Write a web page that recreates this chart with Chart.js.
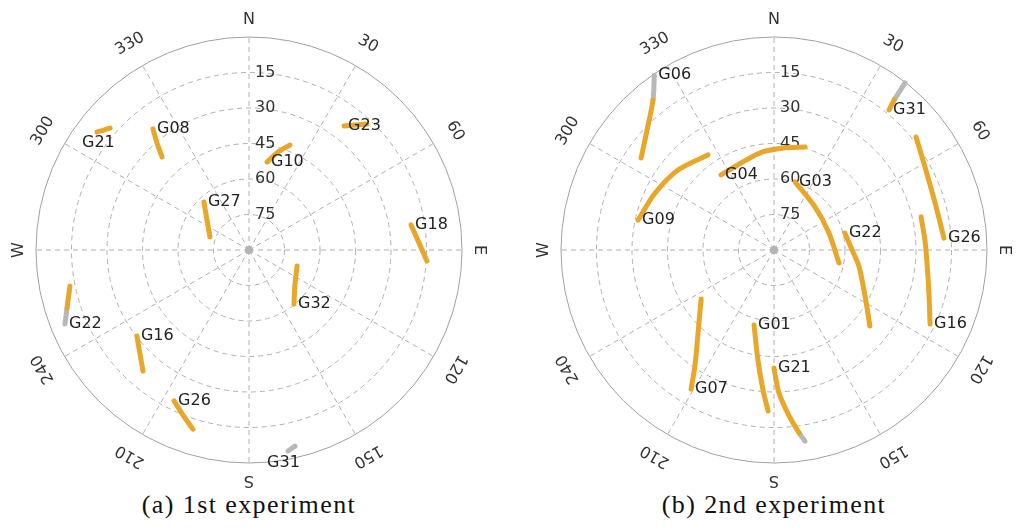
<!DOCTYPE html>
<html>
<head>
<meta charset="utf-8">
<script src="https://cdn.jsdelivr.net/npm/chart.js@4"></script>
<style>
    body { margin: 0; background: #fff; width: 1016px; height: 532px; position: relative; overflow: hidden; }
    .plot { position: absolute; top: 0; width: 508px; height: 490px; }
    .cap { position: absolute; top: 490px; width: 498px; text-align: center;
           font-family: 'Liberation Serif', serif; font-size: 26px; line-height: 30px;
           letter-spacing: 1.4px; color: #111; }
</style>
</head>
<body>
<div class="plot" style="left:0"><canvas id="sky1" width="508" height="490"></canvas></div>
<div class="plot" style="left:508px"><canvas id="sky2" width="508" height="490"></canvas></div>
<div class="cap" style="left:0">(a) 1st experiment</div>
<div class="cap" style="left:525px">(b) 2nd experiment</div>

<script>
// Ejes del skyplot
const azLabels = ['N', '30', '60', 'E', '120', '150', 'S', '210', '240', 'W', '300', '330'];
const azTicks = [0, 30, 60, 90, 120, 150, 180, 210, 240, 270, 300, 330];
const elTicks = [15, 30, 45, 60, 75];

// 1st experiment
const sats1 = ['G21', 'G08', 'G27', 'G10', 'G23', 'G18', 'G32', 'G31', 'G22', 'G16', 'G26'];
const az1 = [
    [307.8, 309.6, 311.3],
    [321.6, 319.3, 316.9],
    [316.8, 305.5, 288.4],
    [11.6, 16.5, 21.3],
    [37.5, 43.1],
    [81.2, 87.6, 93.5],
    [108.4, 127.3, 140.2],
    [166.8, 169.0],
    [248.1, 252.3, 258.6],
    [232.5, 226.3, 221.2],
    [206.4, 201.8, 197.4]
];
const el1 = [
    [8.7, 10.5, 11.9],
    [24.7, 30.4, 36.2],
    [62.2, 68.2, 72.6],
    [52.1, 46.8, 42.4],
    [24.0, 17.1],
    [20.7, 18.1, 14.7],
    [68.6, 65.6, 60.3],
    [4.9, 3.5],
    [6.2, 9.3, 12.8],
    [30.3, 26.3, 22.0],
    [18.8, 14.9, 10.7]
];
const gray1 = [0, 0, 0, 0, 0, 0, 0, 1, 1, 0, 0]; // segmentos grises al inicio
const lblAz1 = [302.0, 321.6, 316.8, 11.6, 37.5, 81.2, 140.2, 176.2, 248.1, 232.5, 206.4];
const lblEl1 = [4.8, 24.7, 62.2, 52.1, 24.0, 20.7, 60.3, 0.0, 6.2, 30.3, 18.8];

// 2nd experiment
const sats2 = ['G06', 'G09', 'G04', 'G03', 'G22', 'G26', 'G16', 'G31', 'G07', 'G01', 'G21'];
const az2 = [
    [325.6, 321.1, 313.4, 304.7],
    [282.4, 295.6, 309.8, 325.2],
    [324.8, 339.2, 353.0, 6.2, 16.8],
    [17.2, 43.6, 72.8, 101.3],
    [76.5, 90.0, 100.7, 116.8, 128.4],
    [51.5, 61.2, 73.7, 86.0],
    [77.3, 86.2, 94.9, 106.2, 115.4],
    [38.1, 38.7, 39.4],
    [236.1, 222.5, 214.3, 210.8],
    [194.9, 188.3, 184.5, 182.1],
    [170.8, 172.2, 174.8, 178.0, 180.0]
];
const el2 = [
    [0.5, 8.6, 16.2, 21.7],
    [31.2, 34.3, 37.2, 41.1],
    [51.2, 50.7, 48.3, 46.6, 44.5],
    [59.9, 64.9, 65.7, 62.0],
    [59.2, 57.0, 53.5, 46.9, 38.3],
    [13.3, 17.2, 19.1, 18.0],
    [26.3, 26.1, 25.1, 21.8, 17.0],
    [0.3, 8.8, 13.4],
    [52.9, 42.5, 30.7, 21.6],
    [57.2, 43.0, 30.7, 21.9],
    [8.2, 12.0, 19.6, 29.5, 40.1]
];
const gray2 = [1, 0, 0, 0, 0, 0, 0, 1, 0, 0, 1];
const lblAz2 = [325.6, 282.4, 324.8, 17.2, 76.5, 86.0, 115.4, 39.4, 210.8, 194.9, 180.0];
const lblEl2 = [0.5, 31.2, 51.2, 59.9, 59.2, 18.0, 17.0, 13.4, 21.6, 57.2, 40.1];

const ORANGE = '#e8a62a';
const GRAY = '#b8b8b8';
const GRID = '#b0b0b0';
const FONT = '16px "DejaVu Sans", sans-serif';

// az/el -> x/y (distancia cenital)
function toXY(az, el) {
    const z = 90 - el;
    const a = az * Math.PI / 180;
    return { x: z * Math.sin(a), y: z * Math.cos(a) };
}

function buildDatasets(names, az, el, gray) {
    return names.map((name, i) => ({
        label: name,
        data: az[i].map((a, j) => toXY(a, el[i][j])),
        showLine: true,
        pointRadius: 0,
        borderWidth: 5,
        borderCapStyle: 'round',
        borderJoinStyle: 'round',
        tension: 0.3,
        borderColor: ORANGE,
        segment: {
            borderColor: c => c.p0DataIndex < gray[i] ? GRAY : ORANGE
        }
    }));
}

// Grilla polar: circulos, radios y etiquetas
const skyGrid = {
    id: 'skyGrid',
    beforeDatasetsDraw(chart) {
        const ctx = chart.ctx;
        const xs = chart.scales.x, ys = chart.scales.y;
        const cx = xs.getPixelForValue(0), cy = ys.getPixelForValue(0);
        const rad = el => xs.getPixelForValue(90 - el) - cx;
        const R = rad(0);
        ctx.save();
        ctx.strokeStyle = GRID;
        ctx.lineWidth = 1;
        ctx.setLineDash([5, 4]);
        elTicks.forEach(e => {
            ctx.beginPath();
            ctx.arc(cx, cy, rad(e), 0, Math.PI * 2);
            ctx.stroke();
        });
        azTicks.forEach(a => {
            const t = a * Math.PI / 180;
            ctx.beginPath();
            ctx.moveTo(cx, cy);
            ctx.lineTo(cx + R * Math.sin(t), cy - R * Math.cos(t));
            ctx.stroke();
        });
        ctx.setLineDash([]);
        ctx.strokeStyle = '#a0a0a0';
        ctx.beginPath();
        ctx.arc(cx, cy, R, 0, Math.PI * 2);
        ctx.stroke();
        ctx.fillStyle = '#b4b4b4';
        ctx.beginPath();
        ctx.arc(cx, cy, 4, 0, Math.PI * 2);
        ctx.fill();

        // elevaciones sobre el eje N
        ctx.font = FONT;
        ctx.fillStyle = '#333';
        ctx.textAlign = 'left';
        ctx.textBaseline = 'middle';
        elTicks.forEach(e => ctx.fillText(String(e), cx + 6, cy - rad(e)));

        // azimut, rotado
        ctx.textAlign = 'center';
        azLabels.forEach((lab, i) => {
            const t = azTicks[i] * Math.PI / 180;
            const r = isNaN(Number(lab)) ? R + 17 : R + 25;
            ctx.save();
            ctx.translate(cx + r * Math.sin(t), cy - r * Math.cos(t));
            ctx.rotate(t);
            ctx.fillText(lab, 0, 0);
            ctx.restore();
        });
        ctx.restore();
    },
    afterDatasetsDraw(chart, args, opts) {
        const ctx = chart.ctx;
        const xs = chart.scales.x, ys = chart.scales.y;
        ctx.save();
        ctx.font = FONT;
        ctx.fillStyle = '#222';
        ctx.textAlign = 'left';
        ctx.textBaseline = 'middle';
        opts.names.forEach((n, i) => {
            const p = toXY(opts.lblAz[i], opts.lblEl[i]);
            ctx.fillText(n, xs.getPixelForValue(p.x) + 4, ys.getPixelForValue(p.y));
        });
        ctx.restore();
    }
};

function renderSky(id, names, az, el, gray, lblAz, lblEl, padLeft) {
    const ctx = document.getElementById(id).getContext('2d');
    new Chart(ctx, {
        type: 'scatter',
        data: { datasets: buildDatasets(names, az, el, gray) },
        options: {
            responsive: false,
            animation: false,
            layout: { padding: { left: padLeft, right: 508 - padLeft - 426, top: 37, bottom: 27 } },
            scales: {
                x: { type: 'linear', min: -90, max: 90, display: false },
                y: { type: 'linear', min: -90, max: 90, display: false }
            },
            plugins: {
                legend: { display: false },
                tooltip: { enabled: false },
                skyGrid: { names: names, lblAz: lblAz, lblEl: lblEl }
            }
        },
        plugins: [skyGrid]
    });
}

renderSky('sky1', sats1, az1, el1, gray1, lblAz1, lblEl1, 36);
renderSky('sky2', sats2, az2, el2, gray2, lblAz2, lblEl2, 53);
</script>
</body>
</html>
